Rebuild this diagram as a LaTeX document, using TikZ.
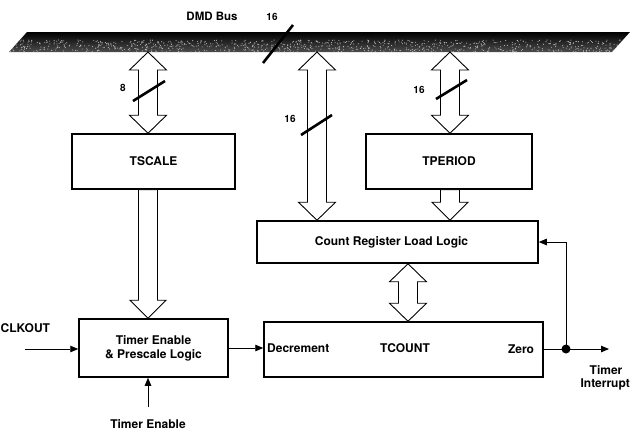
\documentclass[tikz,border=0pt]{standalone}
\usepackage{fontspec}
\setmainfont{TeX Gyre Heros}
\usetikzlibrary{arrows.meta,calc}
\newcommand\dblarr[2]{%
  \draw[hollow] let \p1=(#1), \p2=(#2) in
    (\x1,\y1) -- (\x1+18.5pt,\y1-18pt) -- (\x1+9.5pt,\y1-18pt) -- (\x1+9.5pt,\y2+18pt)
    -- (\x1+18.5pt,\y2+18pt) -- (\x1,\y2) -- (\x1-18.5pt,\y2+18pt) -- (\x1-9.5pt,\y2+18pt)
    -- (\x1-9.5pt,\y1-18pt) -- (\x1-18.5pt,\y1-18pt) -- cycle;}
\newcommand\sglarr[2]{%
  \draw[hollow] let \p1=(#1), \p2=(#2) in
    (\x1-9.5pt,\y1) -- (\x1+9.5pt,\y1) -- (\x1+9.5pt,\y2+18pt) -- (\x1+18pt,\y2+18pt)
    -- (\x1,\y2) -- (\x1-18pt,\y2+18pt) -- (\x1-9.5pt,\y2+18pt) -- cycle;}
\begin{document}
\begin{tikzpicture}[x=1pt,y=-1pt,
  box/.style={draw,line width=1.5pt,inner sep=0pt,align=center,
    font=\bfseries\fontsize{12}{14}\selectfont},
  lbl/.style={font=\bfseries\fontsize{12}{14}\selectfont,inner sep=0pt,align=center},
  num/.style={font=\bfseries\fontsize{10}{12}\selectfont,inner sep=0pt},
  hollow/.style={draw,fill=white,line width=0.9pt,line join=miter},
  sig/.style={draw,line width=0.9pt,-{Triangle[length=8pt,width=6.5pt]}},
  slashline/.style={line width=2.6pt}]
\useasboundingbox (0,0) rectangle (631,432);

% bus
\shade[top color=black,middle color=black,bottom color=black!70]
  (27,32) -- (630,32) -- (612,52) -- (9,52) -- cycle;
\pgfmathsetseed{11}
\foreach \i in {1,...,900}{
  \pgfmathsetmacro\yy{40+12*rnd}
  \pgfmathsetmacro\xx{27-(\yy-32)*0.9+603*rnd}
  \fill[gray!55] (\xx,\yy) circle (0.55pt);
}
\node[lbl,font=\bfseries\fontsize{11.5}{13}\selectfont] (busname) at (212,16) {DMD Bus};

% bus tap points
\coordinate (b1) at (148,52);
\coordinate (b2) at (317,52);
\coordinate (b3) at (450,52);
\coordinate (c4) at (408,263);

% boxes
\node[box,minimum width=163pt,minimum height=55pt] (tscale) at (153.5,161.5) {TSCALE};
\node[box,minimum width=166pt,minimum height=55pt] (tperiod) at (449,161.5) {TPERIOD};
\node[box,minimum width=281pt,minimum height=42pt] (creg) at (397.5,242) {\hspace*{-12pt}Count Register Load Logic};
\node[box,minimum width=149pt,minimum height=58pt] (tenable) at (153.5,348) {Timer Enable\\\& Prescale Logic};
\node[box,minimum width=279pt,minimum height=55pt] (tcount) at (403.5,349.5) {};
\node[lbl,anchor=west] (dec) at (267,348) {Decrement};
\node[lbl] (tcname) at (405,348) {TCOUNT};
\node[lbl] (zero) at (521,349) {Zero};

% hollow bus arrows
\dblarr{b1}{b1 |- tscale.north}
\dblarr{b2}{b2 |- creg.north}
\dblarr{b3}{b3 |- tperiod.north}
\sglarr{b1 |- tscale.south}{b1 |- tenable.north}
\sglarr{b3 |- tperiod.south}{b3 |- creg.north}
\dblarr{c4 |- creg.south}{c4 |- tcount.north}

% width slashes and labels
\draw[slashline] (263,63) -- (293,25);
\node[num] (n16a) at (272,17) {16};
\draw[slashline] (133,101) -- (165,81);
\node[num] (n8) at (123,88) {8};
\draw[slashline] (301,135) -- (332,115);
\node[num] (n16b) at (290,119) {16};
\draw[slashline] (436,99) -- (467,80);
\node[num] (n16c) at (419,90) {16};

% control signals
\node[lbl,anchor=west] (clk) at (0.5,328) {CLKOUT};
\coordinate (clkin) at (25,349);
\draw[sig] (clkin) -- (clkin -| tenable.west);
\draw[sig] (tenable.east) -- (tenable.east -| tcount.west);
\node[lbl] (tenin) at (148,424) {Timer Enable};
\coordinate (tenstart) at (148,407);
\draw[sig] (tenstart) -- (tenstart |- tenable.south);

\coordinate (dot) at (566,349);
\coordinate (tiout) at (609,349);
\draw[line width=0.9pt] (tcount.east |- dot) -- (dot);
\draw[sig] (dot) -- (tiout);
\draw[sig] (dot) |- (creg.east);
\fill (dot) circle (4.5pt);
\node[lbl] (ti1) at (606,370) {Timer};
\node[lbl,anchor=east] (ti2) at (630,384) {Interrupt};
\end{tikzpicture}
\end{document}
